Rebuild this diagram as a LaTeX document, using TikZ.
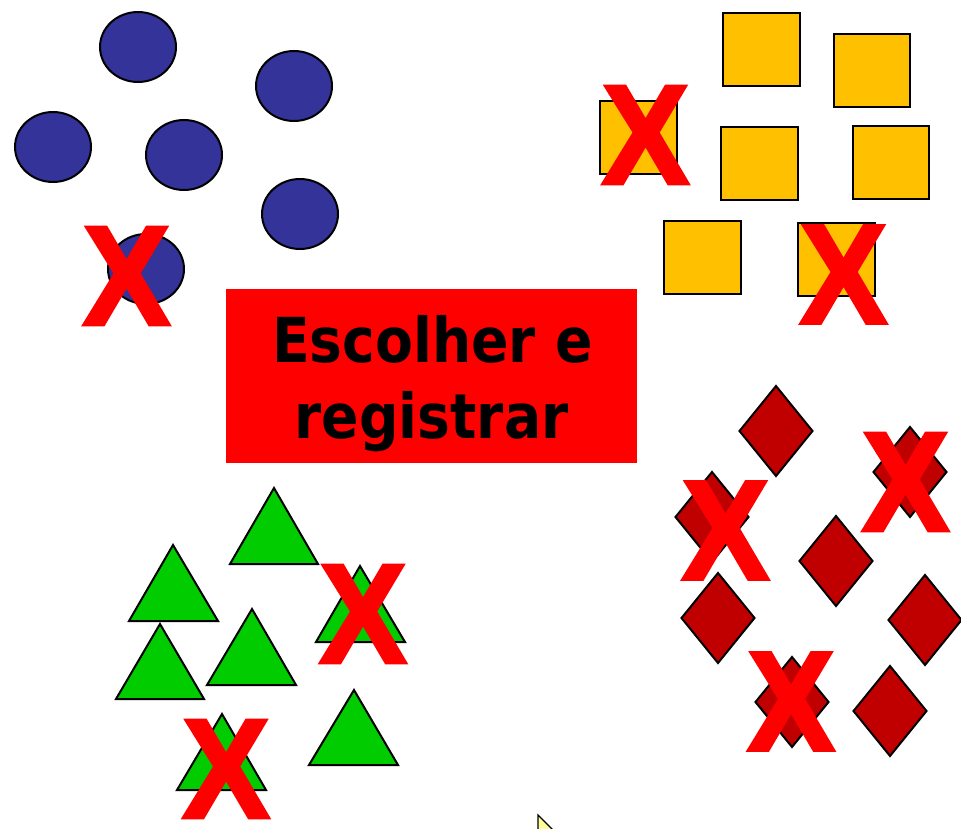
\documentclass[tikz,border=0pt]{standalone}
\usepackage{fontspec}
\newfontfamily\titlefont{DejaVu Sans}
\newfontfamily\xmarkfont[BoldFeatures={FakeBold=2}]{Liberation Sans}
\definecolor{circblue}{HTML}{333399}
\definecolor{sqgold}{HTML}{FFC000}
\definecolor{trigreen}{HTML}{00CC00}
\definecolor{diared}{HTML}{C00000}
\definecolor{xred}{HTML}{FF0000}
\definecolor{cursoryellow}{HTML}{FFFF99}
\tikzset{
  outl/.style={draw=black, line width=2pt, line join=miter},
  circ/.style={outl, fill=circblue},
  sqbox/.style={outl, fill=sqgold},
  tri/.style={outl, fill=trigreen},
  dia/.style={outl, fill=diared},
  xmark/.style={inner sep=0pt, outer sep=0pt, text=xred,
    font=\xmarkfont\bfseries\fontsize{142}{142}\selectfont},
  titlebox/.style={fill=xred, draw=none, minimum width=411pt, minimum height=174pt, inner sep=0pt},
  titletext/.style={inner sep=0pt, anchor=base, text=black,
    font=\titlefont\bfseries\fontsize{62}{76}\selectfont},
}
\newcommand{\xm}{\scalebox{0.93}[1]{X}}
\newcommand{\ttl}[1]{\scalebox{0.89}[1]{#1}}
\begin{document}
\begin{tikzpicture}[x=1pt,y=-1pt]
\useasboundingbox (0,0) rectangle (961,829);
\clip (0,0) rectangle (961,829);
% circles
\draw[circ] (138,47) ellipse [x radius=38, y radius=35];
\draw[circ] (294,86) ellipse [x radius=38, y radius=35];
\draw[circ] (53,147) ellipse [x radius=38, y radius=35];
\draw[circ] (184,155) ellipse [x radius=38, y radius=35];
\draw[circ] (300,214) ellipse [x radius=38, y radius=35];
\draw[circ] (146,269) ellipse [x radius=38, y radius=35];
% squares
\draw[sqbox] (723,13) rectangle (800,86);
\draw[sqbox] (834,34) rectangle (910,107);
\draw[sqbox] (600,101) rectangle (677,174);
\draw[sqbox] (721,127) rectangle (798,200);
\draw[sqbox] (853,126) rectangle (929,199);
\draw[sqbox] (664,221) rectangle (741,294);
\draw[sqbox] (798,223) rectangle (875,296);
% triangles
\draw[tri] (274,488) -- (230,564) -- (318,564) -- cycle;
\draw[tri] (173,545) -- (129,621) -- (218,621) -- cycle;
\draw[tri] (160,624) -- (116,699) -- (204,699) -- cycle;
\draw[tri] (252,609) -- (207,685) -- (296,685) -- cycle;
\draw[tri] (360,566) -- (316,642) -- (405,642) -- cycle;
\draw[tri] (354,690) -- (309,765) -- (398,765) -- cycle;
\draw[tri] (222,714) -- (177,790) -- (266,790) -- cycle;
% diamonds
\foreach \cx/\cy in {776/431, 910/472, 712/517, 836/561, 718/618, 925/620, 792/702, 890/711}{
  \draw[dia] (\cx,\cy-45) -- (\cx+36.5,\cy) -- (\cx,\cy+45) -- (\cx-36.5,\cy) -- cycle;
}
% title
\node[titlebox] (title) at (431.5,376) {};
\node[titletext] (line1) at (432.5,362) {\ttl{Escolher e}};
\node[titletext] (line2) at (431.5,438) {\ttl{registrar}};
% X marks
\node[xmark] (x1) at (126.5,276) {\xm};
\node[xmark] (x2) at (645.5,135) {\xm};
\node[xmark] (x3) at (843.5,274.5) {\xm};
\node[xmark] (x4) at (363,614) {\xm};
\node[xmark] (x5) at (226,769) {\xm};
\node[xmark] (x6) at (905.5,482) {\xm};
\node[xmark] (x7) at (725.5,530.5) {\xm};
\node[xmark] (x8) at (791,701.5) {\xm};
% cursor
\draw[fill=cursoryellow, draw=black, line width=1.2pt] (538,815) -- (538,845) -- (568,845) -- cycle;
\end{tikzpicture}
\end{document}
